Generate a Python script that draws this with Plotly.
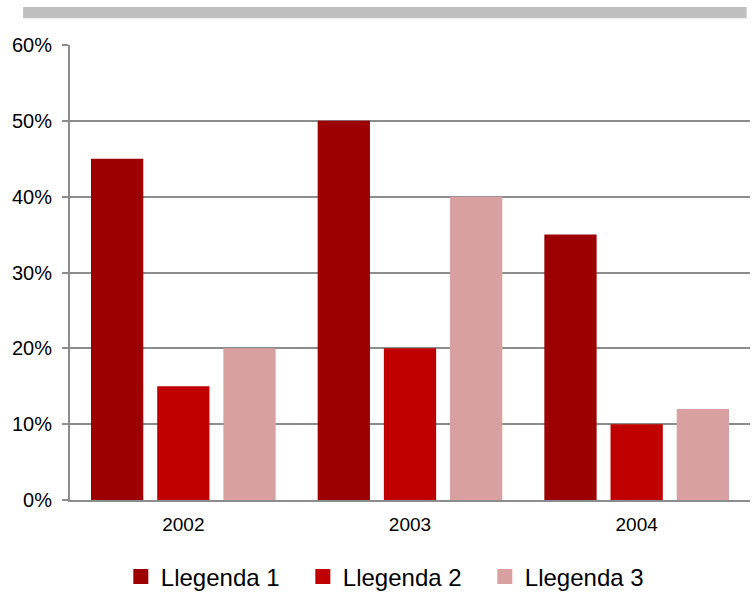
import plotly.graph_objects as go

categories = ["2002", "2003", "2004"]
series_names = ["Llegenda 1", "Llegenda 2", "Llegenda 3"]
legenda1 = [0.45, 0.50, 0.35]
legenda2 = [0.15, 0.20, 0.10]
legenda3 = [0.20, 0.40, 0.12]
colors = ["#9c0000", "#c00000", "#d8a0a0"]

fig = go.Figure()
for name, vals, col in zip(series_names, [legenda1, legenda2, legenda3], colors):
    fig.add_trace(go.Bar(x=categories, y=vals, name=name, legendgroup=name,
                         showlegend=False,
                         marker=dict(color=col, line=dict(width=0))))
# legend entries with larger square swatches
for name, col in zip(series_names, colors):
    fig.add_trace(go.Scatter(x=[None], y=[None], mode="markers", name=name,
                             legendgroup=name, hoverinfo="skip",
                             marker=dict(symbol="square", size=15, color=col)))

fig.update_layout(
    width=753, height=593,
    margin=dict(l=70, r=3, t=45, b=93, autoexpand=False),
    paper_bgcolor="white", plot_bgcolor="white",
    font=dict(family="Liberation Sans, Arial, sans-serif", color="black", size=20),
    bargap=0.124, bargroupgap=0.21,
    showlegend=True,
    legend=dict(orientation="h", xref="container", x=0.523, xanchor="center",
                yref="container", y=0.065, yanchor="top",
                font=dict(size=24), itemwidth=30, traceorder="normal",
                entrywidth=137, entrywidthmode="pixels"),
    xaxis=dict(showline=True, linecolor="#8c8c8c", linewidth=2, ticks="",
               showgrid=False, tickfont=dict(size=19), ticklabelstandoff=6),
    yaxis=dict(range=[0, 0.6], dtick=0.1, tickformat=".0%", showline=True,
               linecolor="#8c8c8c", linewidth=2, ticks="outside", ticklen=6,
               tickcolor="#8c8c8c", tickwidth=2, gridcolor="#8c8c8c", gridwidth=2,
               zeroline=False, tickfont=dict(size=20), ticklabelstandoff=6),
    shapes=[dict(type="rect", xref="paper", yref="paper", x0=-0.069, x1=0.995,
                 y0=1.059, y1=1.0835, fillcolor="#bfbfbf", line=dict(width=0))],
)
fig.write_html("out.html", config={"displayModeBar": False},
               post_script="document.body.style.margin='0';")
